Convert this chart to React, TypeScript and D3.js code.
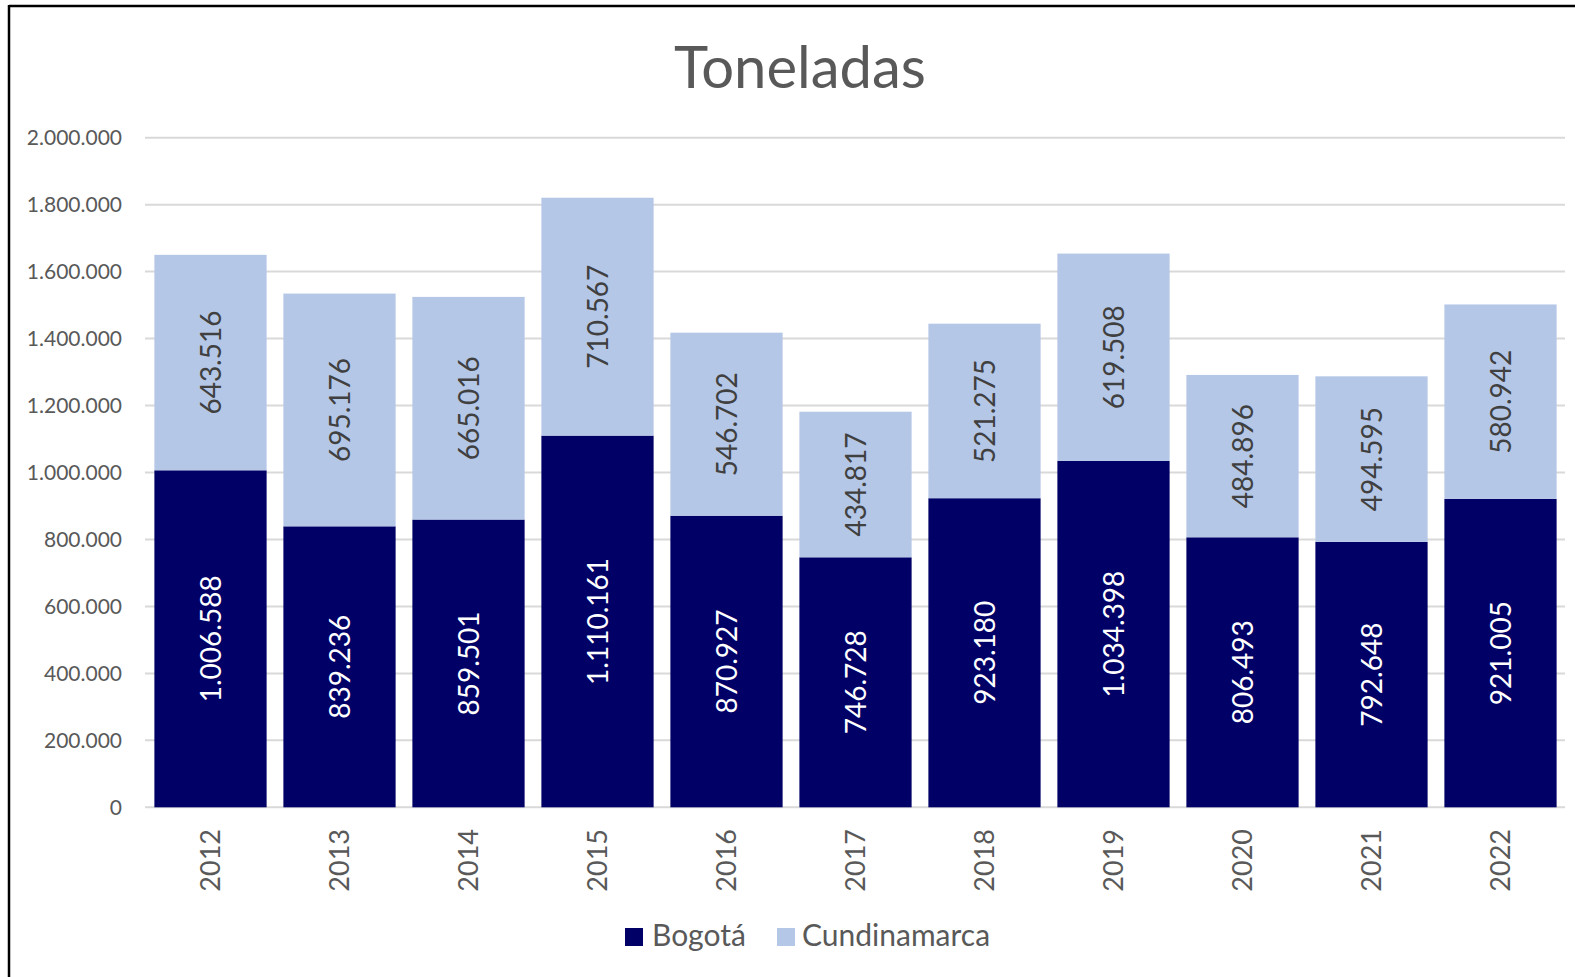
import React from "react";
import * as d3 from "d3";

const years = ["2012", "2013", "2014", "2015", "2016", "2017", "2018", "2019", "2020", "2021", "2022"];
const bogota = [1006588, 839236, 859501, 1110161, 870927, 746728, 923180, 1034398, 806493, 792648, 921005];
const cundinamarca = [643516, 695176, 665016, 710567, 546702, 434817, 521275, 619508, 484896, 494595, 580942];
const yTicks = [0, 200000, 400000, 600000, 800000, 1000000, 1200000, 1400000, 1600000, 1800000, 2000000];
const seriesNames = ["Bogotá", "Cundinamarca"];
const colors = ["#000066", "#B4C7E7"];

const W = 1575;
const H = 977;
const FONT = "Lato, 'Open Sans', sans-serif";

const fmt = (v: number) => d3.format(",")(v).replace(/,/g, ".");

export default function App() {
  const x = d3.scaleBand<string>().domain(years).range([146, 1565]).paddingInner(0.13).paddingOuter(0.065);
  const y = d3.scaleLinear().domain([0, 2000000]).range([807.3, 137.7]);

  const rows = years.map((yr, i) => ({ year: yr, b: bogota[i], c: cundinamarca[i] }));
  const stack = d3.stack<any>().keys(["b", "c"])(rows);

  return (
    <div style={{ position: "fixed", left: 0, top: 0, width: W, height: H, background: "#fff" }}>
      <svg width={W} height={H} style={{ display: "block" }}>
        <rect x={0} y={0} width={W} height={H} fill="#fff" />
        {/* border */}
        <line x1={9} y1={6} x2={W} y2={6} stroke="#000" strokeWidth={2.5} />
        <line x1={9} y1={5} x2={9} y2={H} stroke="#000" strokeWidth={2.5} />

        {/* title */}
        <text x={800} y={88} textAnchor="middle" fontFamily={FONT} fontSize={58} fill="#595959">
          Toneladas
        </text>

        {/* gridlines */}
        {yTicks.map((t) => (
          <line key={t} x1={145} x2={1565} y1={y(t)} y2={y(t)} stroke="#D9D9D9" strokeWidth={2} />
        ))}
        {yTicks.map((t) => (
          <text key={"l" + t} x={122} y={y(t)} dy="0.36em" textAnchor="end" fontFamily={FONT} fontSize={21} fill="#595959">
            {fmt(t)}
          </text>
        ))}

        {/* bars */}
        {stack.map((s, si) => (
          <g key={si}>
            {s.map((d, i) => (
              <rect
                key={i}
                x={x(years[i])!}
                width={x.bandwidth()}
                y={y(d[1])}
                height={y(d[0]) - y(d[1])}
                fill={colors[si]}
              />
            ))}
          </g>
        ))}

        {/* data labels */}
        {stack.map((s, si) =>
          s.map((d, i) => {
            const cx = x(years[i])! + x.bandwidth() / 2;
            const cy = (y(d[0]) + y(d[1])) / 2;
            const v = si === 0 ? bogota[i] : cundinamarca[i];
            return (
              <text
                key={si + "-" + i}
                transform={`translate(${cx},${cy}) rotate(-90)`}
                textAnchor="middle"
                dy="0.36em"
                fontFamily={FONT}
                fontSize={28}
                fill={si === 0 ? "#FFFFFF" : "#404040"}
              >
                {fmt(v)}
              </text>
            );
          })
        )}

        {/* x axis labels */}
        {years.map((yr) => (
          <text
            key={yr}
            transform={`translate(${x(yr)! + x.bandwidth() / 2},829) rotate(-90)`}
            textAnchor="end"
            dy="0.36em"
            fontFamily={FONT}
            fontSize={27}
            fill="#595959"
          >
            {yr}
          </text>
        ))}

        {/* legend */}
        <rect x={625} y={928} width={18} height={18} fill={colors[0]} />
        <text x={652} y={946} fontFamily={FONT} fontSize={30} fill="#595959">
          {seriesNames[0]}
        </text>
        <rect x={777} y={928} width={18} height={18} fill={colors[1]} />
        <text x={802} y={946} fontFamily={FONT} fontSize={30} fill="#595959">
          {seriesNames[1]}
        </text>
      </svg>
    </div>
  );
}
